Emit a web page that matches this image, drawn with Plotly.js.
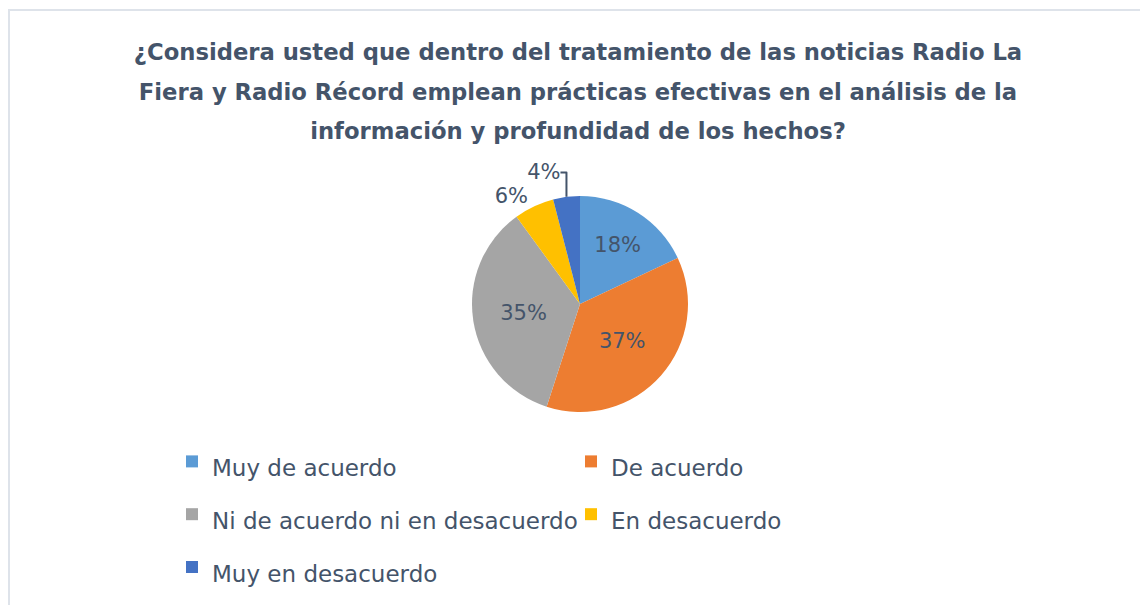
<!DOCTYPE html>
<html>
<head>
<meta charset="utf-8">
<script src="https://cdn.plot.ly/plotly-3.0.1.min.js"></script>
<style>
  html, body { margin: 0; padding: 0; background: #ffffff; }
  #chart { width: 1140px; height: 605px; position: absolute; left: 0; top: 0; }
  #frame { position: absolute; left: 8px; top: 9px; width: 1200px; height: 700px;
           border-left: 2px solid #DEE3EA; border-top: 2px solid #DEE3EA; pointer-events: none; }
</style>
</head>
<body>
<div id="chart"></div>
<div id="frame"></div>
<script>
const categories = ["Muy de acuerdo", "De acuerdo", "Ni de acuerdo ni en desacuerdo", "En desacuerdo", "Muy en desacuerdo"];
const percentages = [18, 37, 35, 6, 4];
const sliceColors = ["#5B9BD5", "#ED7D31", "#A5A5A5", "#FFC000", "#4472C4"];
const labelPositions = ["inside", "inside", "inside", "outside", "outside"];
const titleLines = [
  "¿Considera usted que dentro del tratamiento de las noticias Radio La",
  "Fiera y Radio Récord emplean prácticas efectivas en el análisis de la",
  "información y profundidad de los hechos?"
];

const W = 1140, H = 605;
const textColor = "#44546A";
const legendLabels = categories.map(c => '<span style="font-size:23px">' + c + '</span>');

const trace = {
  type: "pie",
  labels: legendLabels,
  values: percentages,
  sort: false,
  direction: "clockwise",
  rotation: 0,
  marker: { colors: sliceColors, line: { width: 0 } },
  textinfo: "percent",
  textposition: labelPositions,
  insidetextorientation: "horizontal",
  textfont: { family: "DejaVu Sans", size: 21, color: textColor },
  outsidetextfont: { family: "DejaVu Sans", size: 21, color: textColor },
  hoverinfo: "label+percent",
  domain: { x: [(580 - 112) / W, (580 + 112) / W], y: [1 - 412 / H, 1 - 196 / H] }
};

const layout = {
  width: W, height: H,
  margin: { l: 0, r: 0, t: 0, b: 0 },
  paper_bgcolor: "#ffffff",
  font: { family: "DejaVu Sans", color: textColor },
  title: {
    text: titleLines.map(l => '<span style="font-size:22.7px">' + l + '</span>').join("<br>"),
    font: { family: "DejaVu Sans", size: 30.5, color: textColor, weight: "bold" },
    x: 578 / W, xanchor: "center",
    y: 1 - 60 / H, yanchor: "top", yref: "container", xref: "container"
  },
  showlegend: true,
  legend: {
    orientation: "h",
    x: 172 / W, xanchor: "left",
    y: 1 - 430 / H, yanchor: "top",
    entrywidth: 354, entrywidthmode: "pixels",
    font: { family: "DejaVu Sans", size: 38.3, color: textColor },
    traceorder: "normal",
    bgcolor: "rgba(0,0,0,0)"
  }
};

Plotly.newPlot("chart", [trace], layout, { displayModeBar: false, staticPlot: true });
</script>
</body>
</html>
